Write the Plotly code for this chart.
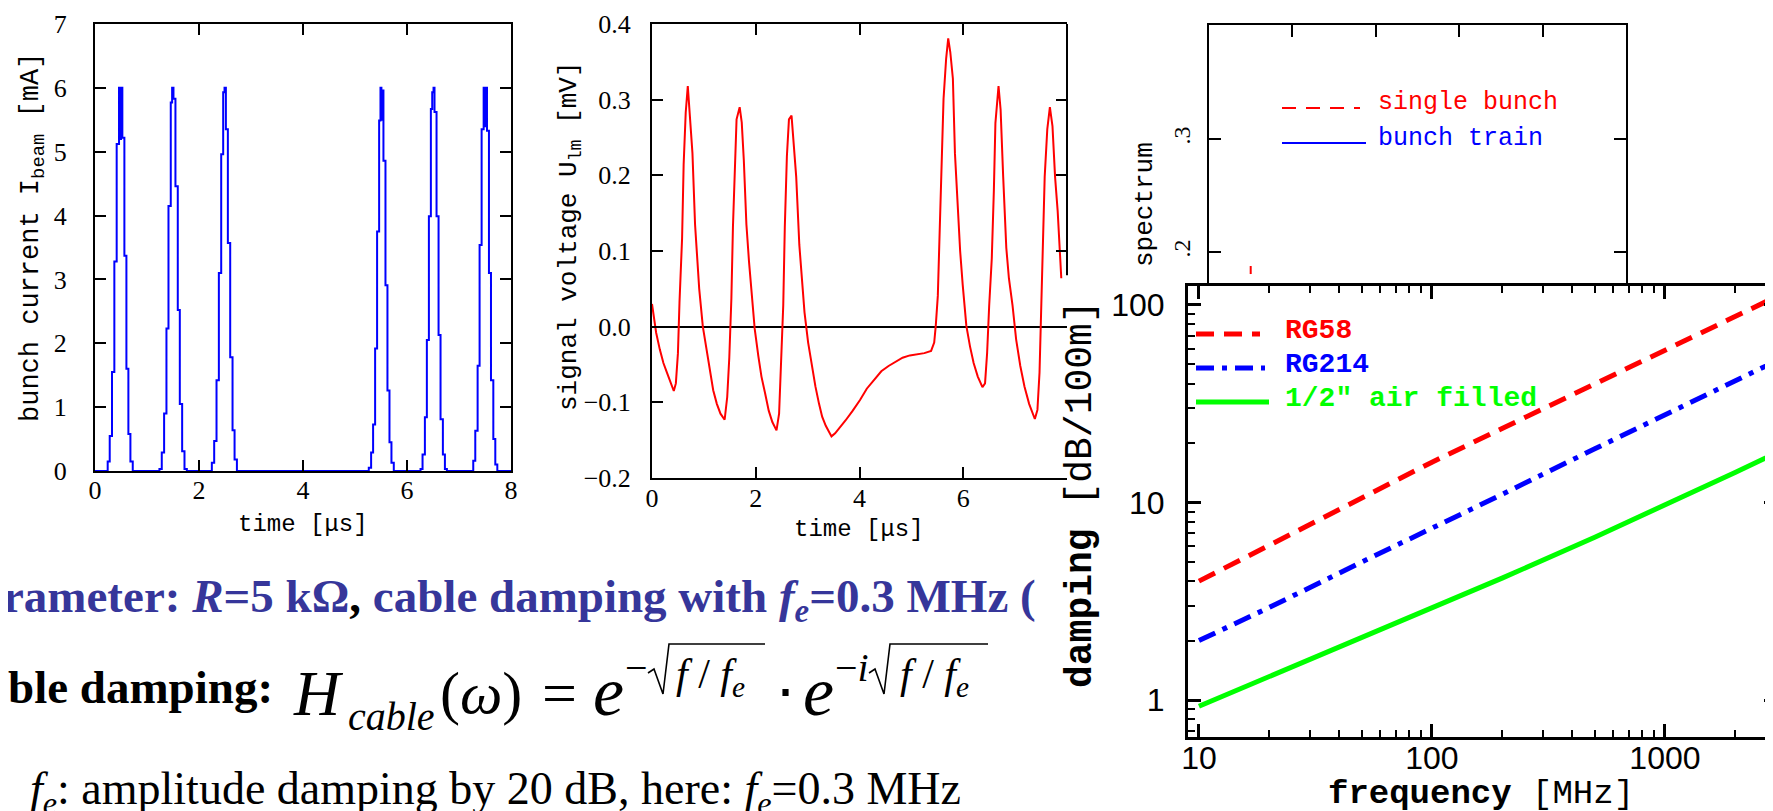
import plotly.graph_objects as go

W, H = 1773, 811

# ---------------- data: panel 1 (bunch current, mA vs time, us) ----------------
pulse1_t = [0.244, 0.283, 0.327, 0.372, 0.417, 0.462, 0.482, 0.501, 0.526, 0.565, 0.604, 0.642, 0.681, 0.726]
pulse1_i = [0.15, 0.55, 1.55, 3.28, 5.12, 6.0, 5.2, 6.0, 5.22, 3.37, 1.6, 0.58, 0.15, 0.0]
pulse2_t = [1.239, 1.284, 1.329, 1.374, 1.413, 1.457, 1.483, 1.509, 1.547, 1.592, 1.631, 1.676, 1.721, 1.766]
pulse2_i = [0.03, 0.29, 0.9, 2.23, 4.15, 5.77, 6.0, 5.83, 4.46, 2.52, 1.05, 0.31, 0.03, 0.0]
pulse3_t = [2.247, 2.292, 2.337, 2.382, 2.427, 2.465, 2.491, 2.517, 2.555, 2.600, 2.645, 2.684, 2.729]
pulse3_i = [0.13, 0.47, 1.42, 3.1, 4.96, 5.93, 6.0, 5.35, 3.57, 1.78, 0.64, 0.18, 0.0]
pulse4_t = [5.265, 5.310, 5.348, 5.387, 5.425, 5.464, 5.490, 5.508, 5.521, 5.547, 5.586, 5.624, 5.663, 5.701, 5.746]
pulse4_i = [0.05, 0.29, 0.73, 1.92, 3.75, 5.49, 6.0, 5.5, 5.96, 4.86, 2.91, 1.26, 0.45, 0.13, 0.0]
pulse5_t = [6.260, 6.299, 6.344, 6.382, 6.421, 6.459, 6.485, 6.510, 6.529, 6.568, 6.607, 6.645, 6.690, 6.729, 6.767]
pulse5_i = [0.03, 0.26, 0.84, 2.05, 3.99, 5.67, 5.93, 6.0, 5.62, 3.99, 2.13, 0.81, 0.26, 0.03, 0.0]
pulse6_t = [7.274, 7.313, 7.358, 7.396, 7.435, 7.474, 7.499, 7.512, 7.538, 7.576, 7.615, 7.660, 7.698, 7.737]
pulse6_i = [0.16, 0.63, 1.65, 3.54, 5.35, 6.0, 5.4, 6.0, 5.33, 3.1, 1.42, 0.5, 0.1, 0.0]
time_start, time_end = [0.0], [8.0]

bunch_t = time_start + pulse1_t + pulse2_t + pulse3_t + pulse4_t + pulse5_t + pulse6_t + time_end
bunch_i = [0.0] + pulse1_i + pulse2_i + pulse3_i + pulse4_i + pulse5_i + pulse6_i + [0.0]

# ---------------- data: panel 2 (signal voltage, mV vs time, us) ----------------
sig_t = [0.00, 0.08, 0.15, 0.22, 0.29, 0.36, 0.42, 0.46, 0.50, 0.53, 0.58, 0.61, 0.65, 0.69, 0.74,
         0.78, 0.83, 0.87, 0.91, 0.98, 1.05, 1.12, 1.18, 1.25, 1.32, 1.40, 1.45, 1.49, 1.53, 1.56,
         1.60, 1.63, 1.69, 1.73, 1.77, 1.82, 1.87, 1.91, 1.98, 2.05, 2.11, 2.18, 2.25, 2.32, 2.40,
         2.45, 2.49, 2.53, 2.56, 2.60, 2.64, 2.69, 2.73, 2.78, 2.84, 2.89, 2.94, 3.01, 3.08, 3.15,
         3.22, 3.28, 3.35, 3.46, 3.53, 3.63, 3.73, 3.87, 4.01, 4.14, 4.28, 4.42, 4.56, 4.70, 4.83,
         4.97, 5.11, 5.25, 5.38, 5.44, 5.47, 5.51, 5.54, 5.58, 5.62, 5.67, 5.71, 5.75, 5.80, 5.84,
         5.89, 5.94, 5.99, 6.06, 6.13, 6.20, 6.28, 6.37, 6.42, 6.46, 6.50, 6.55, 6.59, 6.62, 6.68,
         6.72, 6.77, 6.83, 6.88, 6.95, 7.02, 7.10, 7.18, 7.27, 7.38, 7.43, 7.47, 7.50, 7.53, 7.57,
         7.62, 7.67, 7.72, 7.77, 7.82, 7.86, 7.89]
sig_v = [0.03, -0.008, -0.03, -0.048, -0.061, -0.075, -0.085, -0.075, -0.035, 0.032, 0.117, 0.214, 0.283, 0.318, 0.274,
         0.229, 0.135, 0.091, 0.05, 0.0, -0.029, -0.057, -0.084, -0.102, -0.115, -0.123, -0.093, -0.041, 0.037, 0.131,
         0.218, 0.274, 0.29, 0.27, 0.22, 0.135, 0.086, 0.05, -0.003, -0.039, -0.066, -0.088, -0.111, -0.126, -0.137,
         -0.115, -0.052, 0.028, 0.131, 0.225, 0.274, 0.279, 0.243, 0.198, 0.108, 0.064, 0.019, -0.021, -0.052, -0.079,
         -0.102, -0.119, -0.131, -0.145, -0.141, -0.133, -0.124, -0.111, -0.097, -0.082, -0.07, -0.059, -0.052, -0.046, -0.041,
         -0.038, -0.037, -0.035, -0.032, -0.021, 0.001, 0.041, 0.113, 0.211, 0.301, 0.354, 0.381, 0.363, 0.328, 0.229,
         0.162, 0.1, 0.055, 0.001, -0.026, -0.048, -0.066, -0.08, -0.075, -0.035, 0.028, 0.09, 0.18, 0.269, 0.318,
         0.287, 0.198, 0.104, 0.064, 0.028, -0.017, -0.052, -0.079, -0.102, -0.122, -0.11, -0.061, 0.01, 0.104, 0.198,
         0.261, 0.29, 0.265, 0.198, 0.153, 0.1, 0.064]

# ---------------- data: panel 3 (spectrum, visible fragment) ----------------
spec_x = [0.5, 0.5]
spec_y = [0.1876, 0.1805]

# ---------------- data: panel 4 (cable damping, dB/100m vs MHz) ----------------
freq_mhz = [10, 20, 50, 100, 200, 500, 1000, 2000, 3000]
rg58 = [4.0, 6.07, 10.5, 16.0, 23.7, 39.9, 59, 87.3, 110]
rg214 = [2.0, 2.94, 5.0, 7.4, 11.0, 18.7, 27.8, 41.2, 52]
air_half = [0.93, 1.31, 2.06, 2.91, 4.14, 6.67, 9.66, 14.2, 17.8]

# tick labels
p1_xticks = [0, 2, 4, 6, 8]
p1_yticks = [0, 1, 2, 3, 4, 5, 6, 7]
p2_xticks = [0, 2, 4, 6]
p2_yticks = [-0.2, -0.1, 0.0, 0.1, 0.2, 0.3, 0.4]
p2_ytext = ["\u22120.2", "\u22120.1", "0.0", "0.1", "0.2", "0.3", "0.4"]
p3_yticks = [0.2, 0.3]
p3_ytext = [".2", ".3"]
p4_xticks = [10, 100, 1000]
p4_yticks = [1, 10, 100]
p4_xminor = [20, 30, 40, 50, 60, 70, 80, 90, 200, 300, 400, 500, 600, 700, 800, 900, 2000, 3000]
p4_yminor = [0.7, 0.8, 0.9, 2, 3, 4, 5, 6, 7, 8, 9, 20, 30, 40, 50, 60, 70, 80, 90]


def X(px):
    return px / W


def Y(py):
    return 1 - py / H


SERIF = "Liberation Serif"
MONO = "Liberation Mono"
SANS = "Liberation Sans"

fig = go.Figure()

fig.add_trace(go.Scatter(x=bunch_t, y=bunch_i, mode="lines", line=dict(color="#0000ff", width=2, shape="hv"),
                         xaxis="x", yaxis="y", showlegend=False, hoverinfo="skip"))
fig.add_trace(go.Scatter(x=sig_t, y=sig_v, mode="lines", line=dict(color="#ff0000", width=2),
                         xaxis="x2", yaxis="y2", showlegend=False, hoverinfo="skip"))
fig.add_trace(go.Scatter(x=[], y=[], mode="lines", xaxis="x2", yaxis="y5", showlegend=False, hoverinfo="skip"))
fig.add_trace(go.Scatter(x=spec_x, y=spec_y, mode="lines", line=dict(color="#ff0000", width=2),
                         xaxis="x3", yaxis="y3", showlegend=False, hoverinfo="skip"))
fig.add_trace(go.Scatter(x=freq_mhz, y=rg58, mode="lines", line=dict(color="#ff0000", width=5, dash="18px,10px"),
                         xaxis="x4", yaxis="y4", showlegend=False, hoverinfo="skip"))
fig.add_trace(go.Scatter(x=freq_mhz, y=rg214, mode="lines", line=dict(color="#0000ff", width=5, dash="18px,8px,5px,8px"),
                         xaxis="x4", yaxis="y4", showlegend=False, hoverinfo="skip"))
fig.add_trace(go.Scatter(x=freq_mhz, y=air_half, mode="lines", line=dict(color="#00ff00", width=5),
                         xaxis="x4", yaxis="y4", showlegend=False, hoverinfo="skip"))

tick_common = dict(ticks="inside", tickcolor="black", showgrid=False, zeroline=False, automargin=False)

fig.update_layout(
    width=W, height=H, autosize=False,
    margin=dict(l=0, r=0, t=0, b=0, autoexpand=False),
    paper_bgcolor="white", plot_bgcolor="rgba(0,0,0,0)",
    # panel 1
    xaxis=dict(domain=[X(87), X(503)], anchor="y", range=[0, 8], tickvals=p1_xticks,
               ticktext=[str(v) for v in p1_xticks], ticklen=11, tickwidth=1.5,
               showline=True, linewidth=2, linecolor="black", mirror="ticks",
               tickfont=dict(family=SERIF, size=26, color="black"), ticklabelstandoff=-5, **tick_common),
    yaxis=dict(domain=[Y(463), Y(16)], anchor="x", range=[0, 7], tickvals=p1_yticks,
               ticktext=[str(v) for v in p1_yticks], ticklen=11, tickwidth=1.5,
               showline=True, linewidth=2, linecolor="black", mirror="ticks",
               tickfont=dict(family=SERIF, size=26, color="black"), ticklabelstandoff=21, **tick_common),
    # panel 2
    xaxis2=dict(domain=[X(644), X(1059)], anchor="y2", range=[0, 8], tickvals=p2_xticks,
                ticktext=[str(v) for v in p2_xticks], ticklen=11, tickwidth=1.5,
                showline=True, linewidth=2, linecolor="black", mirror="ticks",
                tickfont=dict(family=SERIF, size=26, color="black"), ticklabelstandoff=-4, **tick_common),
    yaxis2=dict(domain=[Y(470), Y(16)], anchor="x2", range=[-0.2, 0.4], tickvals=p2_yticks,
                ticktext=p2_ytext, ticklen=11, tickwidth=1.5,
                showline=True, linewidth=2, linecolor="black", mirror=False,
                tickfont=dict(family=SERIF, size=26, color="black"), ticklabelstandoff=14,
                ticks="inside", tickcolor="black", showgrid=False, automargin=False,
                zeroline=True, zerolinecolor="black", zerolinewidth=1.5),
    yaxis5=dict(overlaying="y2", side="right", anchor="x2", range=[-0.2, 0.4], tickvals=[0.1, 0.2, 0.3],
                ticklen=11, tickwidth=1.5, showticklabels=False, showline=False, **tick_common),
    # panel 3
    xaxis3=dict(domain=[X(1201), X(1618)], anchor="y3", side="top", range=[0, 5], tickvals=[1, 2, 3, 4],
                ticklen=12, tickwidth=1.5, showticklabels=False,
                showline=True, linewidth=1.5, linecolor="black", mirror=False, **tick_common),
    yaxis3=dict(domain=[Y(277), Y(17)], anchor="x3", range=[0.1708, 0.4009], tickvals=p3_yticks,
                ticktext=p3_ytext, tickangle=-90, ticklen=12, tickwidth=1.5,
                showline=True, linewidth=1.5, linecolor="black", mirror="ticks",
                tickfont=dict(family=SERIF, size=24, color="black"), ticklabelstandoff=8, **tick_common),
    # panel 4
    xaxis4=dict(domain=[X(1180), X(1769)], anchor="y4", type="log", range=[0.953, 3.481],
                tickvals=p4_xticks, ticktext=[str(v) for v in p4_xticks], ticklen=13, tickwidth=2.5,
                minor=dict(tickmode="array", tickvals=p4_xminor, ticks="inside", ticklen=7, tickwidth=2,
                           tickcolor="black", showgrid=False),
                showline=True, linewidth=3, linecolor="black", mirror="ticks",
                tickfont=dict(family=SANS, size=32, color="black"), ticklabelstandoff=-9, **tick_common),
    yaxis4=dict(domain=[Y(729), Y(278)], anchor="x4", type="log", range=[-0.187, 2.096],
                tickvals=p4_yticks, ticktext=[str(v) for v in p4_yticks], ticklen=13, tickwidth=2.5,
                minor=dict(tickmode="array", tickvals=p4_yminor, ticks="inside", ticklen=7, tickwidth=2,
                           tickcolor="black", showgrid=False),
                showline=True, linewidth=3, linecolor="black", mirror="ticks",
                tickfont=dict(family=SANS, size=32, color="black"), ticklabelstandoff=14, **tick_common),
)

shapes = []
# panel 2 right frame (upper part only, lower part hidden behind the damping chart)
shapes.append(dict(type="line", xref="x2 domain", yref="y2", x0=1, x1=1, y0=0.068, y1=0.4,
                   line=dict(color="black", width=2)))
# panel 3 legend samples
shapes.append(dict(type="line", xref="paper", yref="paper", x0=X(1274), x1=X(1352), y0=Y(100), y1=Y(100),
                   line=dict(color="#ff0000", width=2, dash="14px,10px")))
shapes.append(dict(type="line", xref="paper", yref="paper", x0=X(1274), x1=X(1358), y0=Y(135), y1=Y(135),
                   line=dict(color="#0000ff", width=2)))
# panel 4 legend samples
shapes.append(dict(type="line", xref="paper", yref="paper", x0=X(1188), x1=X(1252), y0=Y(326), y1=Y(326),
                   line=dict(color="#ff0000", width=5, dash="18px,10px")))
shapes.append(dict(type="line", xref="paper", yref="paper", x0=X(1188), x1=X(1257), y0=Y(360), y1=Y(360),
                   line=dict(color="#0000ff", width=5, dash="18px,8px,5px,8px")))
shapes.append(dict(type="line", xref="paper", yref="paper", x0=X(1188), x1=X(1261), y0=Y(394), y1=Y(394),
                   line=dict(color="#00ff00", width=5)))


def radical(x0, x1, dy=-7):
    pts = [(x0, 672 + dy), (x0 + 6, 668 + dy), (x0 + 15, 693 + dy), (x0 + 21, 643 + dy), (x1, 643 + dy)]
    path = "M " + " L ".join(f"{X(a):.5f},{Y(b):.5f}" for a, b in pts)
    return dict(type="path", xref="paper", yref="paper", path=path, line=dict(color="black", width=1.6))


shapes.append(radical(640, 757))
shapes.append(radical(861, 980))
fig.update_layout(shapes=shapes)

ann = []


def text(px, py, s, size, family=SERIF, color="black", xanchor="left", angle=0):
    ann.append(dict(x=X(px), y=Y(py), xref="paper", yref="paper", text=s, showarrow=False,
                    xanchor=xanchor, yanchor="middle", textangle=angle,
                    font=dict(family=family, size=size, color=color)))


# axis titles
text(25, 230, "bunch current I<sub>beam</sub> [mA]", 27, MONO, xanchor="center", angle=-90)
text(295, 516, "time [\u03bcs]", 24, MONO, xanchor="center")
text(562, 228, "signal voltage U<sub>lm</sub> [mV]", 26, MONO, xanchor="center", angle=-90)
text(851, 521, "time [\u03bcs]", 24, MONO, xanchor="center")
text(1137, 197, "spectrum", 26, MONO, xanchor="center", angle=-90)
text(1072, 486, "<b>damping</b> [dB/100m]", 38, MONO, xanchor="center", angle=-90)
text(1473, 786, "<b>frequency</b> [MHz]", 34, MONO, xanchor="center")
# legends
text(1368, 95, "single bunch", 25, MONO, color="#ff0000")
text(1368, 130, "bunch train", 25, MONO, color="#0000ff")
text(1275, 322, "<b>RG58</b>", 28, MONO, color="#ff0000")
text(1275, 356, "<b>RG214</b>", 28, MONO, color="#0000ff")
text(1275, 390, "<b>1/2\" air filled</b>", 28, MONO, color="#00ff00")

# slide text
BLUE = "#36369a"
text(-7, 591, "<b>rameter: <i>R</i>=5 k\u03a9<span style='color:black'>,</span> cable damping with "
              "<i>f<sub>e</sub></i>=0.3 MHz (</b>", 47, SERIF, color=BLUE)
text(-2, 679, "<b>ble damping:</b>", 47, SERIF)
text(283, 685, "<i>H</i>", 64, SERIF)
text(338, 708, "<i>cable</i>", 40, SERIF)
text(430, 685, "(<i>\u03c9</i>)", 60, SERIF)
text(532, 685, "=", 62, SERIF)
text(583, 683, "<i>e</i>", 70, SERIF)
text(615, 659, "\u2212", 40, SERIF)
text(666, 669, "<i>f</i> / <i>f<sub>e</sub></i>", 42, SERIF)
text(777, 686, "\u22c5", 60, SERIF, xanchor="center")
text(793, 683, "<i>e</i>", 70, SERIF)
text(825, 659, "\u2212<i>i</i>", 40, SERIF)
text(890, 669, "<i>f</i> / <i>f<sub>e</sub></i>", 42, SERIF)
text(20, 784, "<i>f<sub>e</sub></i>: amplitude damping by 20 dB, here: <i>f<sub>e</sub></i>=0.3 MHz", 46, SERIF)

fig.update_layout(annotations=ann)

fig.write_html("out.html")
